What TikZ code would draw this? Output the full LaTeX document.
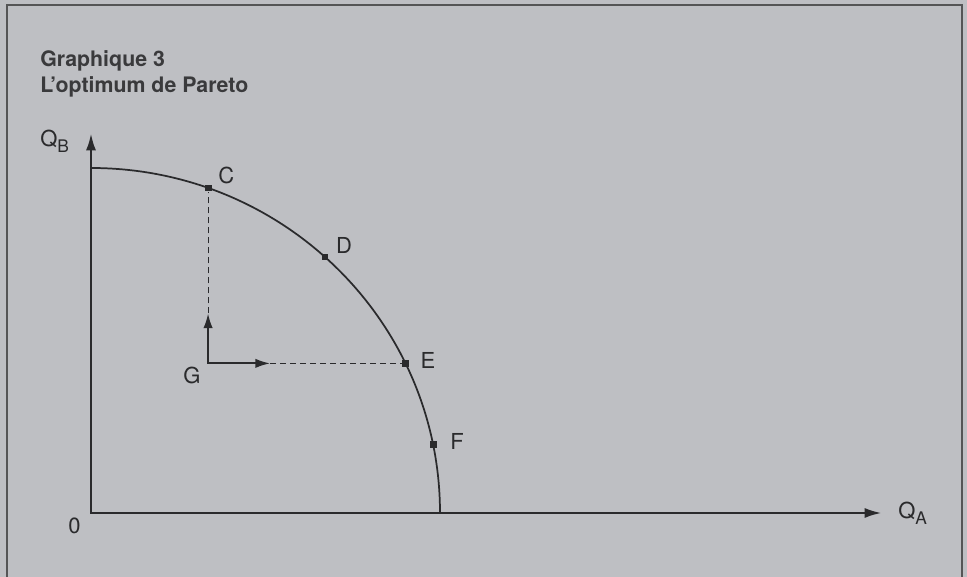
\documentclass[tikz,border=0pt]{standalone}
\usepackage{fontspec}
\setmainfont{TeX Gyre Heros}
\usepackage{tikz}
\usetikzlibrary{arrows.meta,positioning,calc}
\usepackage{xcolor}
\definecolor{paper}{HTML}{BEBFC3}
\definecolor{ink}{HTML}{2A2A2C}
\definecolor{titleink}{HTML}{3A3A3C}

\newcommand{\qsub}[2]{#1\raisebox{-4.5pt}{\fontsize{13}{15}\selectfont #2}}

\begin{document}
\begin{tikzpicture}[
  x=0.75pt, y=0.75pt,
  font=\fontsize{16.5}{19}\selectfont, text=ink,
  frame/.style={draw=ink!80, line width=1.2pt},
  axis/.style={draw=ink, line width=2pt, arrows={Latex[length=13pt,width=7.5pt]-Latex[length=13pt,width=7.5pt]}},
  frontier/.style={draw=ink, line width=1.3pt},
  pmark/.style={fill=ink, inner sep=0pt, minimum size=5.2pt},
  move/.style={draw=ink, line width=1.4pt, arrows={Latex[length=11pt,width=7pt]-Latex[length=11pt,width=7pt]}},
  guide/.style={draw=ink, line width=0.8pt, dash pattern=on 4.5pt off 3pt},
  lbl/.style={anchor=base west, inner sep=0pt},
  title/.style={lbl, font=\fontsize{16}{19}\selectfont\bfseries, text=titleink}
]
\fill[paper] (0,0) rectangle (967,577);
\useasboundingbox (0,0) rectangle (967,577);

% frame, open at the bottom
\draw[frame] (7,-2) -- (7,572) -- (962,572) -- (962,-2);

\node[title] (t1) at (40,510) {Graphique 3};
\node[title] (t2) at (40,484) {L'optimum de Pareto};

% axes
\coordinate (O) at (91,64);
\coordinate (ytip) at (91,444);
\coordinate (xtip) at (882,64);
\draw[axis] (ytip) -- (O) -- (xtip);
\node[lbl] (qb) at (40,430) {\qsub{Q}{B}};
\node[lbl] (qa) at (898,58) {\qsub{Q}{A}};
\node[lbl] (zero) at ($(O)+(-23,-21)$) {0};

% frontier
\draw[frontier] (91,409) arc[start angle=90, end angle=0, x radius=349, y radius=345];

\node[pmark] (C) at ({91+349*cos(70.4)},{64+345*sin(70.4)}) {};
\node[pmark] (D) at ({91+349*cos(47.9)},{64+345*sin(47.9)}) {};
\node[pmark] (E) at ({91+349*cos(25.7)},{64+345*sin(25.7)}) {};
\node[pmark] (F) at ({91+349*cos(11.4)},{64+345*sin(11.4)}) {};

\node[lbl] at ($(C)+(10,4)$) {C};
\node[lbl] at ($(D)+(11,4)$) {D};
\node[lbl] at ($(E)+(15,-5)$) {E};
\node[lbl] at ($(F)+(17,-5)$) {F};

% G and its moves
\coordinate (G) at (C |- E);
\coordinate (Gup) at ($(G)+(0,50)$);
\coordinate (Gright) at ($(G)+(62,0)$);
\draw[move] (Gup) -- (G) -- (Gright);
\draw[guide] (Gup) -- (C);
\draw[guide] (Gright) -- (E);
\node[lbl] (glbl) at ($(G)+(-25,-20)$) {G};

\end{tikzpicture}
\end{document}
